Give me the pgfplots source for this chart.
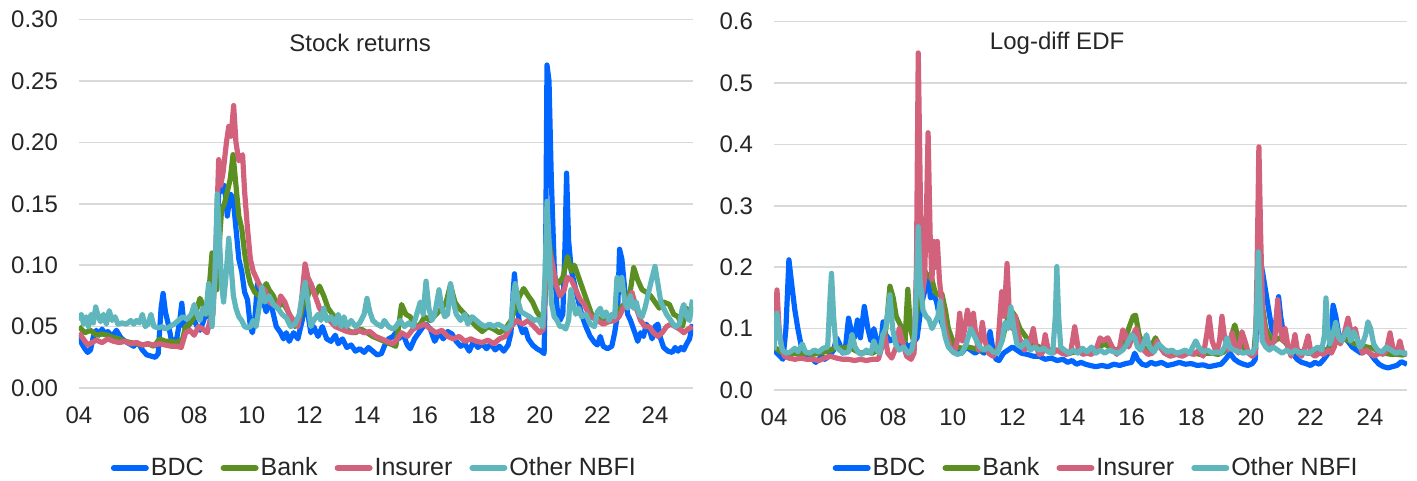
\documentclass[border=0pt]{standalone}
\usepackage{fontspec}
\setmainfont{Liberation Sans}
\usepackage{pgfplots}
\pgfplotsset{compat=1.18}
\definecolor{cbdc}{HTML}{0066FF}
\definecolor{cbank}{HTML}{5B8F22}
\definecolor{cins}{HTML}{D2627B}
\definecolor{cnbfi}{HTML}{5FB7BD}
\definecolor{gridgray}{HTML}{D9D9D9}
\definecolor{txt}{HTML}{262626}
\pgfplotsset{
  mystyle/.style={
    scale only axis, height=184.2pt,
    xmin=2004,
    axis line style={draw=none},
    major tick length=0pt,
    ymajorgrids, grid style={line width=0.8pt, color=gridgray},
    xtick={2004,2006,...,2024},
    xticklabels={04,06,08,10,12,14,16,18,20,22,24},
    tick label style={font=\fontsize{12}{14}\selectfont, text=txt},
    yticklabel style={xshift=-7pt},
    xticklabel style={yshift=-6pt},
    /pgf/number format/assume math mode=true,
    legend columns=4,
    legend style={draw=none, fill=none, font=\fontsize{12.5}{14}\selectfont, text=txt,
      /tikz/every even column/.append style={column sep=7.5pt}, inner sep=0pt, nodes={inner sep=1pt}},
    legend image code/.code={\draw[#1, line width=3pt, line cap=round] (0pt,0pt) -- (16pt,0pt);},
    every axis plot/.append style={line width=2.6pt, line join=round},
  }
}
\begin{document}
\begin{tikzpicture}
\useasboundingbox (0,0) rectangle (708.5pt,240.5pt);
\begin{axis}[mystyle, at={(39.5pt,46.5pt)}, anchor=south west, width=307pt,
  xmax=2025.32, ymin=0, ymax=0.30, ytick={0,0.05,...,0.30},
  yticklabel style={/pgf/number format/.cd, fixed, fixed zerofill, precision=2},
  legend style={at={(0.481,-0.217)}, anchor=center}]
\addplot[cbdc] coordinates {(2004.0,0.043)(2004.1,0.036)(2004.2,0.032)(2004.3,0.029)(2004.4,0.031)(2004.5,0.042)(2004.6,0.047)(2004.7,0.043)(2004.8,0.048)(2004.9,0.044)(2005.0,0.046)(2005.15,0.042)(2005.3,0.047)(2005.45,0.041)(2005.6,0.038)(2005.75,0.036)(2005.9,0.034)(2006.0,0.037)(2006.1,0.035)(2006.2,0.031)(2006.35,0.027)(2006.5,0.026)(2006.65,0.025)(2006.75,0.028)(2006.85,0.065)(2006.92,0.077)(2007.0,0.062)(2007.1,0.052)(2007.2,0.040)(2007.3,0.037)(2007.4,0.041)(2007.5,0.055)(2007.57,0.069)(2007.65,0.05)(2007.75,0.048)(2007.85,0.054)(2008.0,0.055)(2008.1,0.05)(2008.2,0.047)(2008.3,0.053)(2008.4,0.06)(2008.5,0.058)(2008.6,0.067)(2008.7,0.09)(2008.8,0.13)(2008.88,0.175)(2008.95,0.16)(2009.05,0.165)(2009.15,0.14)(2009.25,0.158)(2009.35,0.155)(2009.45,0.13)(2009.55,0.105)(2009.65,0.095)(2009.75,0.078)(2009.85,0.072)(2009.95,0.05)(2010.02,0.045)(2010.1,0.055)(2010.2,0.085)(2010.3,0.083)(2010.4,0.07)(2010.5,0.062)(2010.6,0.07)(2010.7,0.065)(2010.85,0.05)(2011.0,0.045)(2011.1,0.04)(2011.2,0.045)(2011.3,0.038)(2011.45,0.045)(2011.6,0.04)(2011.75,0.055)(2011.85,0.072)(2011.95,0.06)(2012.05,0.045)(2012.15,0.05)(2012.3,0.042)(2012.45,0.05)(2012.6,0.04)(2012.75,0.038)(2012.9,0.043)(2013.0,0.036)(2013.15,0.04)(2013.3,0.033)(2013.45,0.035)(2013.6,0.03)(2013.75,0.032)(2013.9,0.029)(2014.05,0.033)(2014.2,0.03)(2014.35,0.027)(2014.5,0.028)(2014.6,0.034)(2014.75,0.04)(2014.9,0.042)(2015.0,0.045)(2015.1,0.04)(2015.25,0.044)(2015.4,0.035)(2015.5,0.032)(2015.65,0.04)(2015.8,0.045)(2015.95,0.05)(2016.05,0.052)(2016.2,0.048)(2016.35,0.038)(2016.5,0.045)(2016.65,0.04)(2016.8,0.046)(2016.95,0.044)(2017.1,0.038)(2017.25,0.034)(2017.4,0.036)(2017.55,0.03)(2017.7,0.038)(2017.85,0.033)(2018.0,0.036)(2018.15,0.032)(2018.3,0.036)(2018.45,0.031)(2018.6,0.034)(2018.75,0.03)(2018.9,0.035)(2019.0,0.045)(2019.08,0.08)(2019.12,0.093)(2019.2,0.07)(2019.3,0.052)(2019.4,0.045)(2019.5,0.048)(2019.6,0.04)(2019.75,0.035)(2019.9,0.032)(2020.05,0.03)(2020.15,0.028)(2020.2,0.1)(2020.25,0.263)(2020.32,0.25)(2020.4,0.17)(2020.5,0.1)(2020.6,0.065)(2020.7,0.055)(2020.8,0.06)(2020.88,0.12)(2020.93,0.175)(2021.0,0.12)(2021.1,0.095)(2021.2,0.085)(2021.3,0.075)(2021.45,0.06)(2021.6,0.05)(2021.75,0.042)(2021.9,0.037)(2022.0,0.035)(2022.1,0.042)(2022.2,0.034)(2022.35,0.032)(2022.5,0.034)(2022.6,0.045)(2022.7,0.06)(2022.77,0.113)(2022.85,0.105)(2022.95,0.08)(2023.05,0.06)(2023.15,0.055)(2023.3,0.045)(2023.4,0.038)(2023.5,0.045)(2023.6,0.042)(2023.7,0.052)(2023.8,0.048)(2023.9,0.04)(2024.0,0.05)(2024.1,0.052)(2024.2,0.04)(2024.3,0.033)(2024.45,0.03)(2024.6,0.029)(2024.7,0.033)(2024.8,0.03)(2024.9,0.033)(2025.0,0.031)(2025.1,0.036)(2025.2,0.04)(2025.3,0.052)};
\addlegendentry{BDC}
\addplot[cbank] coordinates {(2004.0,0.05)(2004.2,0.045)(2004.4,0.047)(2004.6,0.043)(2004.8,0.044)(2005.0,0.043)(2005.2,0.041)(2005.4,0.04)(2005.6,0.038)(2005.8,0.037)(2006.0,0.036)(2006.2,0.035)(2006.4,0.036)(2006.6,0.034)(2006.8,0.04)(2007.0,0.038)(2007.2,0.038)(2007.4,0.037)(2007.6,0.04)(2007.7,0.05)(2007.85,0.052)(2008.0,0.058)(2008.1,0.065)(2008.2,0.073)(2008.3,0.068)(2008.45,0.06)(2008.55,0.09)(2008.62,0.11)(2008.7,0.105)(2008.78,0.08)(2008.88,0.12)(2008.95,0.145)(2009.05,0.15)(2009.15,0.16)(2009.25,0.17)(2009.35,0.19)(2009.45,0.165)(2009.55,0.14)(2009.65,0.13)(2009.75,0.11)(2009.85,0.095)(2009.95,0.085)(2010.1,0.078)(2010.25,0.075)(2010.4,0.08)(2010.5,0.085)(2010.6,0.08)(2010.75,0.075)(2010.9,0.065)(2011.05,0.07)(2011.2,0.065)(2011.35,0.058)(2011.5,0.05)(2011.65,0.055)(2011.8,0.07)(2011.95,0.075)(2012.05,0.085)(2012.2,0.075)(2012.35,0.083)(2012.5,0.075)(2012.65,0.065)(2012.8,0.06)(2013.0,0.055)(2013.2,0.05)(2013.4,0.046)(2013.6,0.045)(2013.8,0.048)(2014.0,0.045)(2014.2,0.042)(2014.4,0.04)(2014.6,0.038)(2014.8,0.036)(2015.0,0.034)(2015.1,0.05)(2015.2,0.068)(2015.35,0.06)(2015.5,0.058)(2015.65,0.052)(2015.8,0.05)(2016.0,0.058)(2016.2,0.055)(2016.4,0.06)(2016.6,0.065)(2016.75,0.07)(2016.9,0.084)(2017.05,0.07)(2017.2,0.065)(2017.4,0.06)(2017.6,0.055)(2017.8,0.05)(2018.0,0.046)(2018.2,0.05)(2018.4,0.048)(2018.6,0.045)(2018.8,0.048)(2019.0,0.055)(2019.15,0.065)(2019.3,0.075)(2019.44,0.081)(2019.6,0.075)(2019.75,0.07)(2019.9,0.062)(2020.1,0.055)(2020.2,0.08)(2020.25,0.13)(2020.35,0.115)(2020.5,0.09)(2020.65,0.085)(2020.8,0.09)(2020.96,0.107)(2021.1,0.095)(2021.2,0.1)(2021.35,0.09)(2021.5,0.08)(2021.65,0.07)(2021.8,0.06)(2022.0,0.057)(2022.2,0.055)(2022.4,0.058)(2022.6,0.06)(2022.8,0.065)(2023.0,0.07)(2023.15,0.08)(2023.26,0.098)(2023.4,0.088)(2023.55,0.08)(2023.7,0.078)(2023.85,0.075)(2024.0,0.07)(2024.15,0.065)(2024.3,0.07)(2024.5,0.068)(2024.65,0.06)(2024.8,0.058)(2024.95,0.05)(2025.1,0.065)(2025.2,0.06)(2025.3,0.066)};
\addlegendentry{Bank}
\addplot[cins] coordinates {(2004.0,0.045)(2004.15,0.04)(2004.3,0.035)(2004.45,0.037)(2004.6,0.039)(2004.8,0.037)(2005.0,0.04)(2005.2,0.038)(2005.4,0.037)(2005.6,0.038)(2005.8,0.036)(2006.0,0.037)(2006.2,0.035)(2006.4,0.036)(2006.6,0.035)(2006.8,0.036)(2007.0,0.035)(2007.2,0.034)(2007.4,0.034)(2007.55,0.033)(2007.7,0.045)(2007.85,0.047)(2008.0,0.043)(2008.15,0.05)(2008.3,0.048)(2008.45,0.045)(2008.55,0.055)(2008.65,0.06)(2008.75,0.11)(2008.85,0.186)(2008.92,0.165)(2009.0,0.175)(2009.12,0.2)(2009.2,0.213)(2009.28,0.205)(2009.37,0.23)(2009.45,0.2)(2009.55,0.185)(2009.68,0.19)(2009.75,0.16)(2009.85,0.13)(2009.95,0.105)(2010.05,0.095)(2010.15,0.09)(2010.3,0.082)(2010.45,0.08)(2010.6,0.07)(2010.75,0.068)(2010.9,0.065)(2011.0,0.075)(2011.15,0.07)(2011.3,0.06)(2011.45,0.055)(2011.6,0.05)(2011.72,0.07)(2011.85,0.101)(2011.95,0.09)(2012.05,0.085)(2012.2,0.075)(2012.35,0.065)(2012.5,0.06)(2012.7,0.055)(2012.9,0.05)(2013.1,0.048)(2013.3,0.046)(2013.5,0.045)(2013.7,0.047)(2013.9,0.045)(2014.1,0.046)(2014.3,0.042)(2014.5,0.04)(2014.7,0.038)(2014.9,0.036)(2015.05,0.04)(2015.2,0.045)(2015.4,0.042)(2015.6,0.048)(2015.8,0.05)(2016.0,0.052)(2016.2,0.048)(2016.4,0.045)(2016.6,0.047)(2016.8,0.042)(2017.0,0.04)(2017.2,0.042)(2017.4,0.038)(2017.6,0.04)(2017.8,0.038)(2018.0,0.037)(2018.2,0.039)(2018.4,0.036)(2018.6,0.04)(2018.8,0.042)(2019.0,0.05)(2019.2,0.055)(2019.4,0.052)(2019.6,0.055)(2019.8,0.05)(2020.0,0.045)(2020.12,0.048)(2020.2,0.09)(2020.25,0.13)(2020.35,0.11)(2020.45,0.1)(2020.55,0.085)(2020.7,0.075)(2020.85,0.08)(2020.95,0.09)(2021.1,0.088)(2021.25,0.08)(2021.4,0.072)(2021.55,0.068)(2021.7,0.06)(2021.85,0.057)(2022.0,0.055)(2022.2,0.052)(2022.4,0.054)(2022.6,0.055)(2022.75,0.058)(2022.9,0.065)(2023.05,0.07)(2023.2,0.078)(2023.35,0.065)(2023.5,0.055)(2023.65,0.05)(2023.8,0.05)(2023.95,0.045)(2024.1,0.042)(2024.25,0.045)(2024.4,0.05)(2024.55,0.052)(2024.7,0.05)(2024.85,0.048)(2025.0,0.045)(2025.15,0.048)(2025.3,0.05)};
\addlegendentry{Insurer}
\addplot[cnbfi] coordinates {(2004.0,0.055)(2004.08,0.06)(2004.16,0.052)(2004.25,0.058)(2004.33,0.05)(2004.42,0.06)(2004.5,0.053)(2004.58,0.066)(2004.67,0.058)(2004.75,0.054)(2004.85,0.06)(2004.95,0.052)(2005.05,0.063)(2005.15,0.055)(2005.25,0.058)(2005.35,0.052)(2005.5,0.053)(2005.65,0.052)(2005.8,0.055)(2005.9,0.052)(2006.0,0.055)(2006.1,0.053)(2006.2,0.06)(2006.3,0.05)(2006.4,0.052)(2006.5,0.06)(2006.6,0.05)(2006.75,0.049)(2006.9,0.05)(2007.0,0.048)(2007.15,0.05)(2007.3,0.052)(2007.45,0.055)(2007.6,0.058)(2007.75,0.056)(2007.9,0.06)(2008.0,0.068)(2008.1,0.06)(2008.2,0.055)(2008.3,0.065)(2008.4,0.06)(2008.5,0.085)(2008.55,0.07)(2008.62,0.05)(2008.72,0.09)(2008.8,0.158)(2008.88,0.12)(2008.95,0.085)(2009.02,0.07)(2009.1,0.09)(2009.2,0.122)(2009.28,0.1)(2009.36,0.075)(2009.45,0.065)(2009.55,0.058)(2009.65,0.055)(2009.75,0.05)(2009.85,0.049)(2009.95,0.05)(2010.05,0.055)(2010.15,0.05)(2010.25,0.065)(2010.35,0.082)(2010.45,0.07)(2010.6,0.075)(2010.75,0.068)(2010.9,0.065)(2011.05,0.06)(2011.2,0.057)(2011.35,0.05)(2011.5,0.052)(2011.65,0.06)(2011.75,0.075)(2011.85,0.086)(2011.95,0.07)(2012.05,0.05)(2012.15,0.055)(2012.3,0.06)(2012.4,0.055)(2012.5,0.065)(2012.6,0.055)(2012.75,0.058)(2012.9,0.052)(2013.0,0.06)(2013.1,0.05)(2013.2,0.058)(2013.3,0.05)(2013.45,0.055)(2013.6,0.05)(2013.75,0.053)(2013.9,0.06)(2014.0,0.073)(2014.1,0.062)(2014.2,0.055)(2014.35,0.052)(2014.5,0.05)(2014.6,0.055)(2014.75,0.05)(2014.9,0.048)(2015.0,0.05)(2015.15,0.055)(2015.3,0.05)(2015.45,0.053)(2015.6,0.05)(2015.75,0.062)(2015.85,0.07)(2015.95,0.06)(2016.05,0.087)(2016.15,0.065)(2016.25,0.055)(2016.35,0.06)(2016.5,0.08)(2016.6,0.065)(2016.7,0.058)(2016.8,0.06)(2016.9,0.085)(2017.0,0.07)(2017.1,0.06)(2017.25,0.055)(2017.4,0.06)(2017.5,0.052)(2017.65,0.058)(2017.8,0.055)(2017.95,0.052)(2018.1,0.05)(2018.25,0.052)(2018.4,0.05)(2018.55,0.052)(2018.7,0.05)(2018.85,0.048)(2019.0,0.052)(2019.08,0.075)(2019.15,0.085)(2019.25,0.07)(2019.35,0.062)(2019.5,0.06)(2019.65,0.058)(2019.8,0.055)(2019.95,0.056)(2020.1,0.05)(2020.18,0.09)(2020.25,0.152)(2020.32,0.12)(2020.4,0.07)(2020.5,0.058)(2020.6,0.055)(2020.7,0.05)(2020.8,0.05)(2020.9,0.048)(2021.0,0.055)(2021.08,0.08)(2021.15,0.07)(2021.25,0.06)(2021.35,0.065)(2021.45,0.058)(2021.6,0.06)(2021.75,0.052)(2021.9,0.05)(2022.0,0.062)(2022.1,0.065)(2022.2,0.058)(2022.3,0.062)(2022.4,0.055)(2022.5,0.06)(2022.6,0.058)(2022.68,0.09)(2022.75,0.08)(2022.85,0.09)(2022.95,0.07)(2023.05,0.065)(2023.15,0.075)(2023.25,0.065)(2023.35,0.07)(2023.45,0.06)(2023.55,0.058)(2023.65,0.065)(2023.8,0.08)(2023.9,0.09)(2024.0,0.099)(2024.1,0.085)(2024.2,0.07)(2024.3,0.065)(2024.4,0.06)(2024.55,0.055)(2024.7,0.05)(2024.85,0.052)(2024.95,0.065)(2025.0,0.068)(2025.1,0.058)(2025.2,0.055)(2025.3,0.072)};
\addlegendentry{Other NBFI}
\node[font=\fontsize{12}{14}\selectfont, text=txt] at (axis cs:2013.76,0.281) {Stock returns};
\end{axis}
\begin{axis}[mystyle, at={(387pt,45.5pt)}, anchor=south west, width=316.5pt,
  xmax=2025.24, ymin=0, ymax=0.6, ytick={0,0.1,...,0.6},
  yticklabel style={/pgf/number format/.cd, fixed, fixed zerofill, precision=1},
  legend style={at={(0.509,-0.212)}, anchor=center}]
\addplot[cbdc] coordinates {(2004.0,0.065)(2004.1,0.06)(2004.2,0.055)(2004.3,0.05)(2004.4,0.1)(2004.5,0.212)(2004.6,0.17)(2004.7,0.13)(2004.8,0.1)(2004.9,0.075)(2005.0,0.06)(2005.1,0.055)(2005.2,0.05)(2005.3,0.05)(2005.4,0.045)(2005.5,0.05)(2005.6,0.055)(2005.7,0.05)(2005.85,0.055)(2006.0,0.065)(2006.1,0.085)(2006.2,0.075)(2006.3,0.06)(2006.4,0.07)(2006.5,0.117)(2006.6,0.095)(2006.7,0.085)(2006.8,0.114)(2006.9,0.085)(2007.03,0.136)(2007.15,0.1)(2007.25,0.08)(2007.35,0.1)(2007.45,0.08)(2007.55,0.06)(2007.66,0.111)(2007.75,0.09)(2007.9,0.08)(2008.05,0.085)(2008.2,0.075)(2008.35,0.08)(2008.5,0.07)(2008.65,0.075)(2008.8,0.085)(2008.95,0.14)(2009.05,0.16)(2009.17,0.185)(2009.25,0.15)(2009.35,0.155)(2009.45,0.145)(2009.55,0.12)(2009.7,0.1)(2009.85,0.085)(2010.0,0.075)(2010.15,0.065)(2010.3,0.06)(2010.45,0.07)(2010.6,0.065)(2010.75,0.06)(2010.9,0.065)(2011.05,0.06)(2011.15,0.07)(2011.25,0.095)(2011.35,0.065)(2011.45,0.05)(2011.55,0.048)(2011.7,0.06)(2011.85,0.065)(2012.0,0.07)(2012.15,0.065)(2012.3,0.06)(2012.5,0.058)(2012.7,0.055)(2012.9,0.055)(2013.1,0.05)(2013.3,0.052)(2013.5,0.048)(2013.7,0.05)(2013.85,0.045)(2014.0,0.048)(2014.15,0.042)(2014.3,0.045)(2014.45,0.042)(2014.6,0.04)(2014.8,0.038)(2015.0,0.04)(2015.2,0.038)(2015.4,0.042)(2015.6,0.04)(2015.8,0.043)(2016.0,0.045)(2016.1,0.06)(2016.2,0.05)(2016.35,0.042)(2016.5,0.04)(2016.65,0.045)(2016.8,0.042)(2017.0,0.045)(2017.2,0.04)(2017.4,0.042)(2017.6,0.045)(2017.8,0.042)(2018.0,0.043)(2018.2,0.04)(2018.4,0.041)(2018.6,0.038)(2018.8,0.04)(2019.0,0.042)(2019.15,0.05)(2019.3,0.06)(2019.45,0.05)(2019.6,0.045)(2019.75,0.042)(2019.9,0.04)(2020.05,0.043)(2020.15,0.05)(2020.22,0.15)(2020.3,0.215)(2020.4,0.19)(2020.5,0.16)(2020.6,0.13)(2020.7,0.1)(2020.8,0.09)(2020.88,0.13)(2020.93,0.152)(2021.0,0.12)(2021.1,0.09)(2021.25,0.07)(2021.4,0.06)(2021.55,0.05)(2021.7,0.045)(2021.85,0.043)(2022.0,0.04)(2022.15,0.045)(2022.3,0.042)(2022.45,0.05)(2022.6,0.06)(2022.7,0.1)(2022.76,0.138)(2022.85,0.12)(2022.95,0.09)(2023.1,0.085)(2023.25,0.08)(2023.4,0.07)(2023.55,0.065)(2023.7,0.06)(2023.85,0.065)(2024.0,0.06)(2024.15,0.05)(2024.3,0.042)(2024.45,0.038)(2024.6,0.036)(2024.75,0.038)(2024.9,0.04)(2025.05,0.046)(2025.24,0.042)};
\addlegendentry{BDC}
\addplot[cbank] coordinates {(2004.0,0.07)(2004.15,0.065)(2004.3,0.06)(2004.5,0.058)(2004.7,0.06)(2004.9,0.058)(2005.1,0.06)(2005.3,0.058)(2005.5,0.06)(2005.7,0.062)(2005.9,0.065)(2006.1,0.07)(2006.3,0.068)(2006.5,0.07)(2006.7,0.065)(2006.9,0.06)(2007.1,0.062)(2007.3,0.06)(2007.5,0.065)(2007.7,0.08)(2007.8,0.12)(2007.89,0.169)(2008.0,0.15)(2008.1,0.12)(2008.2,0.11)(2008.3,0.1)(2008.4,0.08)(2008.45,0.13)(2008.49,0.164)(2008.58,0.1)(2008.68,0.08)(2008.78,0.12)(2008.88,0.19)(2009.0,0.2)(2009.1,0.19)(2009.2,0.185)(2009.3,0.18)(2009.4,0.16)(2009.5,0.155)(2009.63,0.157)(2009.75,0.13)(2009.85,0.1)(2010.0,0.08)(2010.15,0.07)(2010.3,0.068)(2010.5,0.07)(2010.7,0.068)(2010.9,0.065)(2011.1,0.065)(2011.3,0.062)(2011.5,0.065)(2011.65,0.08)(2011.8,0.11)(2011.95,0.13)(2012.1,0.12)(2012.25,0.1)(2012.4,0.09)(2012.55,0.08)(2012.7,0.075)(2012.9,0.07)(2013.1,0.068)(2013.3,0.065)(2013.5,0.065)(2013.7,0.062)(2013.9,0.06)(2014.1,0.062)(2014.3,0.065)(2014.5,0.063)(2014.7,0.065)(2014.9,0.07)(2015.1,0.075)(2015.3,0.068)(2015.5,0.065)(2015.7,0.07)(2015.9,0.1)(2016.05,0.12)(2016.13,0.122)(2016.25,0.09)(2016.4,0.07)(2016.55,0.065)(2016.7,0.075)(2016.8,0.085)(2016.95,0.07)(2017.1,0.065)(2017.3,0.062)(2017.5,0.06)(2017.7,0.06)(2017.9,0.062)(2018.1,0.06)(2018.3,0.058)(2018.5,0.06)(2018.7,0.06)(2018.9,0.058)(2019.1,0.062)(2019.3,0.08)(2019.46,0.106)(2019.6,0.08)(2019.75,0.07)(2019.9,0.062)(2020.1,0.06)(2020.2,0.12)(2020.27,0.2)(2020.35,0.15)(2020.5,0.1)(2020.65,0.085)(2020.8,0.08)(2020.95,0.085)(2021.1,0.08)(2021.3,0.07)(2021.5,0.065)(2021.7,0.062)(2021.9,0.06)(2022.1,0.06)(2022.3,0.062)(2022.5,0.065)(2022.7,0.07)(2022.9,0.08)(2023.1,0.085)(2023.3,0.08)(2023.5,0.075)(2023.7,0.072)(2023.9,0.07)(2024.1,0.068)(2024.3,0.062)(2024.5,0.06)(2024.7,0.058)(2024.9,0.058)(2025.1,0.057)(2025.24,0.06)};
\addlegendentry{Bank}
\addplot[cins] coordinates {(2004.0,0.07)(2004.05,0.12)(2004.1,0.163)(2004.17,0.1)(2004.25,0.07)(2004.35,0.055)(2004.5,0.052)(2004.7,0.05)(2004.9,0.052)(2005.1,0.05)(2005.3,0.05)(2005.5,0.048)(2005.7,0.052)(2005.9,0.055)(2006.1,0.052)(2006.3,0.05)(2006.5,0.05)(2006.7,0.048)(2006.9,0.05)(2007.1,0.048)(2007.3,0.05)(2007.5,0.05)(2007.62,0.07)(2007.72,0.09)(2007.82,0.06)(2007.95,0.052)(2008.1,0.07)(2008.2,0.1)(2008.3,0.08)(2008.45,0.055)(2008.6,0.05)(2008.7,0.06)(2008.78,0.2)(2008.84,0.549)(2008.9,0.35)(2008.96,0.15)(2009.05,0.18)(2009.12,0.3)(2009.17,0.419)(2009.24,0.25)(2009.3,0.18)(2009.36,0.242)(2009.42,0.2)(2009.48,0.242)(2009.55,0.18)(2009.65,0.13)(2009.75,0.1)(2009.85,0.08)(2009.95,0.065)(2010.05,0.06)(2010.15,0.08)(2010.23,0.125)(2010.32,0.08)(2010.4,0.1)(2010.49,0.13)(2010.57,0.11)(2010.63,0.1)(2010.69,0.125)(2010.78,0.085)(2010.87,0.065)(2010.99,0.11)(2011.08,0.08)(2011.2,0.06)(2011.35,0.055)(2011.5,0.065)(2011.64,0.16)(2011.72,0.12)(2011.82,0.206)(2011.9,0.12)(2011.98,0.1)(2012.1,0.12)(2012.2,0.09)(2012.3,0.075)(2012.4,0.065)(2012.5,0.07)(2012.6,0.08)(2012.7,0.1)(2012.8,0.07)(2012.9,0.058)(2013.0,0.06)(2013.1,0.09)(2013.2,0.065)(2013.35,0.06)(2013.5,0.065)(2013.65,0.06)(2013.8,0.058)(2013.95,0.06)(2014.09,0.103)(2014.2,0.07)(2014.35,0.058)(2014.5,0.06)(2014.65,0.058)(2014.8,0.065)(2014.94,0.085)(2015.05,0.08)(2015.2,0.085)(2015.35,0.07)(2015.5,0.058)(2015.6,0.07)(2015.7,0.098)(2015.8,0.09)(2015.9,0.07)(2016.05,0.09)(2016.15,0.1)(2016.25,0.08)(2016.4,0.065)(2016.55,0.058)(2016.7,0.06)(2016.85,0.08)(2016.95,0.07)(2017.1,0.06)(2017.3,0.055)(2017.5,0.058)(2017.7,0.055)(2017.9,0.06)(2018.1,0.058)(2018.25,0.065)(2018.4,0.055)(2018.52,0.09)(2018.6,0.119)(2018.7,0.08)(2018.85,0.06)(2018.95,0.08)(2019.03,0.12)(2019.12,0.085)(2019.25,0.065)(2019.37,0.093)(2019.48,0.07)(2019.58,0.06)(2019.7,0.095)(2019.8,0.08)(2019.92,0.06)(2020.05,0.055)(2020.15,0.06)(2020.21,0.2)(2020.27,0.396)(2020.33,0.25)(2020.4,0.12)(2020.5,0.09)(2020.6,0.07)(2020.7,0.075)(2020.8,0.08)(2020.9,0.147)(2020.98,0.1)(2021.08,0.08)(2021.15,0.1)(2021.25,0.07)(2021.35,0.055)(2021.48,0.09)(2021.58,0.06)(2021.7,0.055)(2021.82,0.07)(2021.92,0.088)(2022.02,0.06)(2022.15,0.055)(2022.3,0.06)(2022.45,0.058)(2022.6,0.065)(2022.7,0.06)(2022.8,0.07)(2022.9,0.09)(2023.0,0.075)(2023.1,0.085)(2023.26,0.117)(2023.38,0.09)(2023.5,0.1)(2023.62,0.075)(2023.75,0.06)(2023.88,0.065)(2024.0,0.06)(2024.15,0.055)(2024.3,0.06)(2024.45,0.058)(2024.55,0.065)(2024.67,0.093)(2024.78,0.065)(2024.9,0.06)(2025.0,0.08)(2025.1,0.06)(2025.24,0.058)};
\addlegendentry{Insurer}
\addplot[cnbfi] coordinates {(2004.0,0.065)(2004.05,0.1)(2004.1,0.125)(2004.18,0.09)(2004.28,0.065)(2004.4,0.06)(2004.55,0.062)(2004.7,0.068)(2004.8,0.062)(2004.95,0.075)(2005.05,0.062)(2005.2,0.06)(2005.35,0.065)(2005.5,0.062)(2005.65,0.068)(2005.8,0.07)(2005.88,0.15)(2005.93,0.19)(2006.0,0.12)(2006.08,0.07)(2006.2,0.065)(2006.35,0.06)(2006.5,0.062)(2006.62,0.09)(2006.72,0.07)(2006.85,0.06)(2006.95,0.058)(2007.1,0.065)(2007.25,0.06)(2007.35,0.08)(2007.45,0.065)(2007.55,0.06)(2007.65,0.09)(2007.75,0.1)(2007.89,0.155)(2007.98,0.1)(2008.08,0.075)(2008.2,0.065)(2008.35,0.07)(2008.5,0.06)(2008.62,0.065)(2008.72,0.09)(2008.8,0.2)(2008.84,0.266)(2008.9,0.18)(2009.0,0.13)(2009.1,0.12)(2009.2,0.115)(2009.3,0.1)(2009.4,0.11)(2009.5,0.12)(2009.58,0.145)(2009.65,0.11)(2009.75,0.085)(2009.85,0.07)(2010.0,0.062)(2010.15,0.058)(2010.3,0.06)(2010.45,0.075)(2010.6,0.1)(2010.75,0.085)(2010.9,0.07)(2011.05,0.065)(2011.2,0.07)(2011.35,0.062)(2011.5,0.06)(2011.65,0.08)(2011.75,0.11)(2011.85,0.1)(2011.95,0.135)(2012.05,0.1)(2012.15,0.075)(2012.3,0.07)(2012.45,0.08)(2012.6,0.065)(2012.75,0.07)(2012.9,0.065)(2013.05,0.068)(2013.2,0.062)(2013.35,0.06)(2013.44,0.12)(2013.49,0.201)(2013.55,0.12)(2013.62,0.07)(2013.75,0.065)(2013.9,0.06)(2014.05,0.065)(2014.2,0.06)(2014.35,0.068)(2014.5,0.062)(2014.65,0.07)(2014.8,0.06)(2014.95,0.065)(2015.1,0.06)(2015.25,0.065)(2015.4,0.062)(2015.55,0.06)(2015.7,0.065)(2015.85,0.075)(2016.0,0.09)(2016.1,0.085)(2016.2,0.07)(2016.3,0.065)(2016.4,0.075)(2016.5,0.09)(2016.6,0.07)(2016.75,0.062)(2016.9,0.075)(2017.05,0.068)(2017.2,0.062)(2017.35,0.065)(2017.5,0.06)(2017.65,0.062)(2017.8,0.065)(2017.95,0.06)(2018.05,0.07)(2018.15,0.08)(2018.25,0.07)(2018.4,0.062)(2018.55,0.065)(2018.7,0.06)(2018.85,0.062)(2019.0,0.06)(2019.12,0.07)(2019.2,0.085)(2019.3,0.068)(2019.45,0.065)(2019.6,0.062)(2019.75,0.06)(2019.9,0.062)(2020.05,0.06)(2020.15,0.07)(2020.21,0.15)(2020.25,0.225)(2020.31,0.15)(2020.38,0.08)(2020.5,0.07)(2020.62,0.065)(2020.75,0.07)(2020.9,0.065)(2021.05,0.06)(2021.2,0.065)(2021.35,0.06)(2021.5,0.065)(2021.65,0.06)(2021.8,0.062)(2021.95,0.06)(2022.1,0.065)(2022.25,0.07)(2022.38,0.065)(2022.47,0.09)(2022.52,0.15)(2022.58,0.1)(2022.65,0.075)(2022.75,0.09)(2022.85,0.11)(2022.95,0.085)(2023.05,0.08)(2023.15,0.09)(2023.25,0.1)(2023.35,0.08)(2023.45,0.095)(2023.55,0.085)(2023.65,0.07)(2023.75,0.075)(2023.85,0.09)(2023.93,0.111)(2024.02,0.1)(2024.12,0.075)(2024.25,0.065)(2024.4,0.062)(2024.55,0.07)(2024.7,0.065)(2024.85,0.06)(2025.0,0.062)(2025.12,0.06)(2025.24,0.06)};
\addlegendentry{Other NBFI}
\node[font=\fontsize{12}{14}\selectfont, text=txt] at (axis cs:2013.5,0.565) {Log-diff EDF};
\end{axis}
\end{tikzpicture}
\end{document}
